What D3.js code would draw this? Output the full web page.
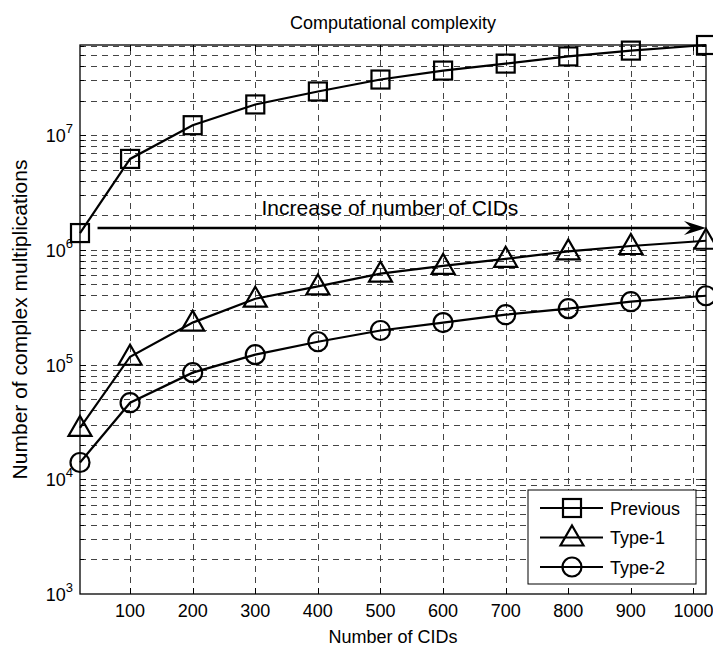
<!DOCTYPE html>
<html>
<head>
<meta charset="utf-8">
<script src="https://cdn.jsdelivr.net/npm/d3@7"></script>
<style>
  body { margin: 0; background: #fff; }
  text { font-family: "Liberation Sans", Arial, Helvetica, sans-serif; fill: #000; }
</style>
</head>
<body>
<svg id="chart" width="713" height="649"></svg>
<script>
// number of CIDs on the x axis
const cids = [20, 100, 200, 300, 400, 500, 600, 700, 800, 900, 1020];

// complex multiplications for each scheme
const previous = [1.4e6, 6.2e6, 1.22e7, 1.85e7, 2.4e7, 3.05e7, 3.65e7, 4.2e7, 4.85e7, 5.45e7, 6.1e7];
const type1 = [2.8e4, 1.17e5, 2.32e5, 3.75e5, 4.8e5, 6.2e5, 7.25e5, 8.35e5, 9.7e5, 1.08e6, 1.2e6];
const type2 = [1.4e4, 4.65e4, 8.5e4, 1.22e5, 1.58e5, 1.98e5, 2.32e5, 2.72e5, 3.07e5, 3.53e5, 3.98e5];

const seriesNames = ['Previous', 'Type-1', 'Type-2'];
const seriesMarkers = ['square', 'triangle', 'circle'];

const xTicks = [100, 200, 300, 400, 500, 600, 700, 800, 900, 1000];
const yTickExps = [3, 4, 5, 6, 7];

// annotation arrow
const arrowFrom = [48, 1.55e6];
const arrowTo = [1020, 1.55e6];
const arrowLabel = 'Increase of number of CIDs';
const arrowLabelAt = [310, 2.0e6];

const W = 713, H = 649;
const margin = { left: 80, right: 7, top: 45, bottom: 55 };

const svg = d3.select('#chart');

const x = d3.scaleLinear()
  .domain([cids[0], cids[cids.length - 1]])
  .range([margin.left, W - margin.right]);

const y = d3.scaleLog()
  .domain([1e3, d3.max(previous)])
  .range([H - margin.bottom, margin.top]);

const [x0, x1] = x.range();
const [y0, y1] = y.range();

// grid values: every 1..9 x 10^k inside the range
const gridVals = [];
yTickExps.forEach(k => {
  for (let m = 1; m <= 9; m++) {
    const v = m * Math.pow(10, k);
    if (v > 1e3 && v <= y.domain()[1] * 1.001) gridVals.push({ v, major: m === 1 });
  }
});

const grid = svg.append('g').attr('class', 'grid')
  .attr('stroke', '#444').attr('stroke-width', 1).attr('stroke-dasharray', '6,5');

grid.selectAll('line.gy').data(gridVals).join('line')
  .attr('class', 'gy')
  .attr('x1', x0).attr('x2', x1)
  .attr('y1', d => Math.round(y(d.v)) + 0.5)
  .attr('y2', d => Math.round(y(d.v)) + 0.5);

grid.selectAll('line.gx').data(xTicks).join('line')
  .attr('class', 'gx')
  .attr('x1', d => Math.round(x(d)) + 0.5).attr('x2', d => Math.round(x(d)) + 0.5)
  .attr('y1', y0).attr('y2', y1);

// ticks on all four sides (inward)
const ticks = svg.append('g').attr('stroke', '#000').attr('stroke-width', 1);
xTicks.forEach(t => {
  const px = Math.round(x(t)) + 0.5;
  ticks.append('line').attr('x1', px).attr('x2', px).attr('y1', y0).attr('y2', y0 - 6);
  ticks.append('line').attr('x1', px).attr('x2', px).attr('y1', y1).attr('y2', y1 + 6);
});
gridVals.forEach(d => {
  const py = Math.round(y(d.v)) + 0.5;
  const len = d.major ? 6 : 4;
  ticks.append('line').attr('x1', x0).attr('x2', x0 + len).attr('y1', py).attr('y2', py);
  ticks.append('line').attr('x1', x1).attr('x2', x1 - len).attr('y1', py).attr('y2', py);
});

// frame
svg.append('rect')
  .attr('x', x0).attr('y', y1)
  .attr('width', x1 - x0).attr('height', y0 - y1)
  .attr('fill', 'none').attr('stroke', '#000').attr('stroke-width', 1.3);

// x tick labels
svg.append('g').selectAll('text').data(xTicks).join('text')
  .attr('x', d => x(d)).attr('y', y0 + 23)
  .attr('text-anchor', 'middle').attr('font-size', 18)
  .text(d => d);

// y tick labels 10^k
const yl = svg.append('g').selectAll('text').data(yTickExps).join('text')
  .attr('x', x0 - 7).attr('y', d => y(Math.pow(10, d)) + 7)
  .attr('text-anchor', 'end').attr('font-size', 18);
yl.append('tspan').text('10');
yl.append('tspan').attr('dy', -9).attr('font-size', 13).text(d => d);

// titles
svg.append('text').attr('x', (x0 + x1) / 2).attr('y', 29)
  .attr('text-anchor', 'middle').attr('font-size', 18)
  .text('Computational complexity');
svg.append('text').attr('x', (x0 + x1) / 2).attr('y', 643)
  .attr('text-anchor', 'middle').attr('font-size', 18)
  .text('Number of CIDs');
svg.append('text')
  .attr('transform', `translate(27,${(y0 + y1) / 2}) rotate(-90)`)
  .attr('text-anchor', 'middle').attr('font-size', 21)
  .text('Number of complex multiplications');

// marker shapes
function drawMarker(g, kind, cx, cy) {
  const m = g.append('g').attr('fill', 'none').attr('stroke', '#000').attr('stroke-width', 2.2);
  if (kind === 'square') {
    m.append('rect').attr('x', cx - 9).attr('y', cy - 9).attr('width', 18).attr('height', 18);
  } else if (kind === 'triangle') {
    m.append('path').attr('d', `M${cx},${cy - 12} L${cx + 11.5},${cy + 8} L${cx - 11.5},${cy + 8} Z`);
  } else {
    m.append('circle').attr('cx', cx).attr('cy', cy).attr('r', 9.5);
  }
}

const line = d3.line().x(d => x(d[0])).y(d => y(d[1]));
const allSeries = [previous, type1, type2];

const plot = svg.append('g');
allSeries.forEach((vals, i) => {
  const pts = cids.map((c, j) => [c, vals[j]]);
  plot.append('path').datum(pts)
    .attr('d', line)
    .attr('fill', 'none').attr('stroke', '#000').attr('stroke-width', 2.2);
  pts.forEach(p => drawMarker(plot, seriesMarkers[i], x(p[0]), y(p[1])));
});

// arrow annotation
const ax0 = x(arrowFrom[0]), ax1 = x(arrowTo[0]), ay = y(arrowFrom[1]);
const headL = 22, headW = 14;
svg.append('line')
  .attr('x1', ax0).attr('x2', ax1 - headL * 0.6)
  .attr('y1', ay).attr('y2', ay)
  .attr('stroke', '#000').attr('stroke-width', 2.5);
svg.append('path')
  .attr('d', `M${ax1},${ay} L${ax1 - headL},${ay - headW / 2} L${ax1 - headL * 0.65},${ay} L${ax1 - headL},${ay + headW / 2} Z`)
  .attr('fill', '#000');
svg.append('text')
  .attr('x', x(arrowLabelAt[0])).attr('y', y(arrowLabelAt[1]))
  .attr('font-size', 21)
  .text(arrowLabel);

// legend
const lg = svg.append('g');
const lgX = 528, lgY = 490, lgW = 168, lgH = 94;
lg.append('rect').attr('x', lgX).attr('y', lgY).attr('width', lgW).attr('height', lgH)
  .attr('fill', '#fff').attr('stroke', '#000').attr('stroke-width', 1);
seriesNames.forEach((name, i) => {
  const ry = lgY + 18 + i * 29.5;
  lg.append('line').attr('x1', lgX + 12).attr('x2', lgX + 75)
    .attr('y1', ry).attr('y2', ry)
    .attr('stroke', '#000').attr('stroke-width', 2.2);
  drawMarker(lg, seriesMarkers[i], lgX + 44, ry);
  lg.append('text').attr('x', lgX + 82).attr('y', ry + 6.5)
    .attr('font-size', 18).text(name);
});
</script>
</body>
</html>
